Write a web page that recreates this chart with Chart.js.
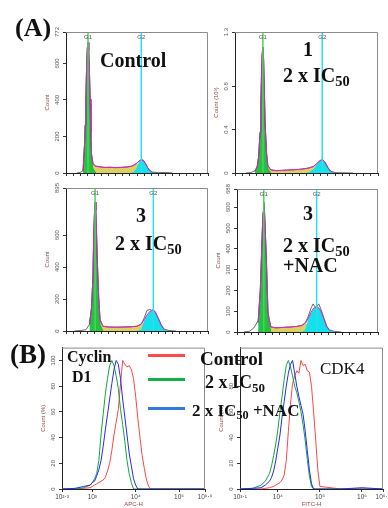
<!DOCTYPE html>
<html>
<head>
<meta charset="utf-8">
<title>Cell cycle and cyclin D1 / CDK4</title>
<script src="https://cdn.jsdelivr.net/npm/chart.js@4.4.1/dist/chart.umd.min.js"></script>
<style>
  html, body { margin: 0; padding: 0; background: #fff; }
  #wrap { position: relative; width: 388px; height: 508px; overflow: hidden; background: #fff; }
  #wrap canvas { position: absolute; }
  .lbl { position: absolute; font-family: "Liberation Serif", "Times New Roman", serif; font-weight: bold; line-height: 1; white-space: nowrap; color: #111; z-index: 2; }
  .lbl sub { font-size: 0.72em; vertical-align: -0.28em; line-height: 0; }
  .key { position: absolute; left: 148px; width: 37px; height: 3px; z-index: 2; }
</style>
</head>
<body>
<div id="wrap">
  <div class="lbl" style="left:15px;top:15px;font-size:26px">(A)</div>
  <div class="lbl" style="left:100px;top:50px;font-size:20px">Control</div>
  <div class="lbl" style="left:303px;top:39px;font-size:20px">1</div>
  <div class="lbl" style="left:283px;top:65px;font-size:20px">2 x IC<sub>50</sub></div>
  <div class="lbl" style="left:136px;top:205px;font-size:20px">3</div>
  <div class="lbl" style="left:115px;top:233px;font-size:20px">2 x IC<sub>50</sub></div>
  <div class="lbl" style="left:303px;top:203px;font-size:20px">3</div>
  <div class="lbl" style="left:283px;top:235px;font-size:20px">2 x IC<sub>50</sub></div>
  <div class="lbl" style="left:283px;top:255px;font-size:20px">+NAC</div>

  <div class="lbl" style="left:10px;top:341px;font-size:27px">(B)</div>
  <div class="lbl" style="left:67px;top:349px;font-size:16px">Cyclin</div>
  <div class="lbl" style="left:72px;top:369px;font-size:16px">D1</div>
  <div class="lbl" style="left:320px;top:360px;font-size:17px;font-weight:normal">CDK4</div>

  <div class="key" style="top:354px;background:rgb(255,75,75)"></div>
  <div class="key" style="top:378px;background:rgb(20,175,70)"></div>
  <div class="key" style="top:407px;background:rgb(50,120,225)"></div>
  <div class="lbl" style="left:200px;top:349px;font-size:19px">Control</div>
  <div class="lbl" style="left:205px;top:373px;font-size:18px">2 x IC<sub>50</sub></div>
  <div class="lbl" style="left:192px;top:402px;font-size:17px">2 x IC<sub>50</sub> +NAC</div>
</div>

<script>
// ---- (A) cell cycle histograms: channel positions and counts ----
const a1X   = [15, 20, 24, 26, 27, 28, 29, 30, 31, 32, 33, 34, 35, 36, 38, 42, 48, 55, 62, 70, 78, 86, 92, 96, 100, 103, 106, 109, 112, 115, 118, 122, 130, 140, 150];
const a1Raw = [0, 3, 12, 150, 265, 405, 585, 685, 715, 675, 565, 405, 225, 105, 52, 38, 34, 30, 32, 29, 31, 33, 37, 44, 55, 66, 73, 70, 52, 30, 14, 5, 2, 3, 0];
const a1Fit = [null, null, 10, 150, 260, 400, 580, 680, 715, 670, 560, 400, 220, 100, 50, 37, 33, 31, 31, 30, 31, 33, 37, 44, 54, 65, 72, 69, 51, 29, 13, 4];
const a1G1  = [null, null, 10, 150, 260, 400, 580, 680, 715, 670, 560, 380, 190, 80, 25, 0];
const a1S   = [null, null, null, null, null, null, null, null, null, 0, 30, 60, 215, 100, 50, 37, 33, 31, 31, 30, 31, 33, 37, 44, 52, 45, 30, 15, 5, 0];
const a1G2  = [null, null, null, null, null, null, null, null, null, null, null, null, null, null, null, null, null, null, null, null, null, null, 0, 8, 30, 63, 72, 69, 51, 29, 13, 4, 0];
const a1Ticks = [0, 200, 400, 600, 772];

const a2X   = [15, 22, 28, 31, 33, 35, 36, 37, 38, 39, 40, 41, 42, 44, 46, 50, 58, 66, 74, 82, 90, 98, 104, 110, 114, 118, 122, 126, 130, 134, 140, 150, 165];
const a2Raw = [0, 4, 20, 60, 150, 380, 620, 900, 1120, 1160, 1060, 790, 490, 200, 70, 30, 22, 25, 28, 30, 34, 40, 48, 62, 85, 110, 127, 100, 50, 15, 4, 2, 0];
const a2Fit = [null, null, 18, 55, 145, 370, 600, 880, 1100, 1160, 1050, 780, 480, 190, 65, 28, 22, 24, 27, 30, 33, 40, 47, 60, 82, 108, 125, 98, 48, 14];
const a2G1  = [null, null, 18, 55, 145, 370, 600, 880, 1100, 1160, 1050, 780, 480, 170, 40, 0];
const a2S   = [null, null, null, null, null, null, null, null, null, null, null, 0, 30, 185, 55, 28, 22, 24, 27, 30, 33, 40, 47, 58, 62, 45, 25, 10, 0];
const a2G2  = [null, null, null, null, null, null, null, null, null, null, null, null, null, null, null, null, null, null, null, null, null, 0, 10, 35, 75, 105, 125, 98, 48, 14, 0];
const a2Ticks = [0, 400, 800, 1300];

const a3X   = [12, 20, 28, 33, 36, 38, 39, 40, 41, 42, 43, 44, 46, 48, 52, 60, 70, 80, 90, 100, 106, 110, 114, 118, 121, 123, 126, 130, 134, 138, 145, 155];
const a3Raw = [0, 3, 8, 40, 150, 350, 600, 730, 806, 760, 620, 460, 220, 72, 30, 25, 24, 25, 26, 30, 45, 80, 128, 135, 128, 133, 118, 80, 40, 12, 3, 0];
const a3Fit = [null, null, null, 38, 145, 345, 595, 725, 806, 755, 615, 455, 215, 70, 29, 25, 24, 25, 26, 30, 42, 70, 100, 122, 130, 131, 115, 78, 38, 10];
const a3G1  = [null, null, null, 38, 145, 345, 595, 725, 806, 755, 615, 440, 190, 40, 0];
const a3S   = [null, null, null, null, null, null, null, null, null, null, 0, 60, 210, 68, 29, 25, 24, 25, 26, 30, 40, 50, 30, 18, 8, 0];
const a3G2  = [null, null, null, null, null, null, null, null, null, null, null, null, null, null, null, null, null, null, null, 0, 10, 66, 95, 120, 130, 131, 115, 78, 38, 10, 0];
const a3Ticks = [0, 200, 400, 600, 895];

const a4X   = [10, 18, 24, 30, 33, 35, 36, 37, 38, 39, 40, 42, 44, 48, 55, 65, 75, 85, 92, 97, 101, 105, 108, 111, 113, 116, 119, 123, 127, 131, 138, 148];
const a4Raw = [0, 4, 20, 55, 200, 400, 500, 580, 624, 585, 505, 320, 95, 25, 20, 22, 24, 27, 32, 45, 75, 115, 135, 118, 122, 135, 110, 70, 30, 10, 3, 0];
const a4Fit = [null, null, null, 45, 195, 395, 495, 575, 624, 580, 500, 315, 90, 24, 20, 22, 24, 27, 32, 42, 65, 95, 112, 119, 121, 116, 100, 65, 28, 8];
const a4G1  = [null, null, null, 45, 195, 395, 495, 575, 624, 580, 500, 300, 70, 0];
const a4S   = [null, null, null, null, null, null, null, null, null, null, 0, 40, 88, 24, 20, 22, 24, 27, 30, 38, 40, 30, 15, 5, 0];
const a4G2  = [null, null, null, null, null, null, null, null, null, null, null, null, null, null, null, null, null, null, 0, 12, 62, 92, 110, 119, 121, 116, 100, 65, 28, 8, 0];
const a4Ticks = [0, 100, 200, 300, 400, 500, 600, 688];

// gate positions (channel)
const gateG1 = [31, 39, 41, 38];
const gateG2 = [106, 122, 123, 113];

// ---- (B) overlays: log10 of intensity and % of max ----
const b1X       = [2.3, 2.6, 2.8, 2.95, 3.0, 3.05, 3.1, 3.15, 3.2, 3.25, 3.3, 3.35, 3.4, 3.45, 3.5, 3.55, 3.6, 3.65, 3.7, 3.75, 3.8, 3.85, 3.9, 3.95, 4.0, 4.05, 4.1, 4.15, 4.2, 4.25, 4.3, 4.35, 4.5, 5.0, 5.6];
const b1Control = [0, 0, 0.5, 1, 2, 3, 4, 5, 6, 7, 9, 14, 20, 30, 42, 52, 62, 82, 100, 97, 95, 96, 93, 86, 72, 55, 40, 26, 16, 7, 2, 0, 0, 0, 0];
const b1Ic50    = [0, 0, 1, 3, 5, 8, 12, 22, 42, 58, 74, 86, 96, 100, 96, 88, 78, 62, 50, 37, 22, 12, 5, 0, 0, 0, 0, 0, 0, 0, 0, 0, 0, 0, 0];
const b1Nac     = [0, 0.5, 2, 3, 5, 6, 10, 15, 22, 33, 46, 58, 70, 82, 93, 100, 97, 86, 70, 56, 42, 28, 18, 8, 3, 0, 0, 0, 0, 0, 0, 0, 0, 0, 0];
const b1Ticks   = [2.3, 3, 4, 5, 5.6];

const b2X       = [3.1, 3.4, 3.6, 3.7, 3.8, 3.85, 3.9, 3.95, 4.0, 4.05, 4.1, 4.15, 4.2, 4.25, 4.3, 4.35, 4.4, 4.45, 4.5, 4.55, 4.6, 4.65, 4.7, 4.75, 4.8, 4.85, 4.9, 4.95, 5.0, 5.5, 6.0, 6.5];
const b2Control = [0, 0, 0, 0.5, 1, 1.5, 2, 3, 4, 5, 7, 11, 22, 45, 66, 82, 88, 92, 90, 100, 96, 97, 92, 91, 80, 60, 38, 15, 2, 0, 0, 0];
const b2Ic50    = [0, 0.5, 3, 6, 12, 18, 26, 35, 46, 60, 72, 85, 96, 100, 95, 88, 80, 75, 68, 60, 50, 38, 23, 10, 2, 0, 0, 0, 0, 0, 0, 0];
const b2Nac     = [0, 0.5, 1, 3, 6, 9, 14, 22, 32, 42, 56, 68, 80, 90, 97, 100, 90, 80, 72, 65, 58, 45, 30, 15, 4, 0, 0, 0, 0, 0, 1, 0];
const b2Ticks   = [3.1, 4, 5, 6, 6.5];
const pctTicks  = [0, 20, 40, 60, 80, 100];

Chart.defaults.font.family = '"Liberation Sans", Arial, sans-serif';
Chart.defaults.animation = false;

function pts(xs, ys) {
  return xs.map((x, i) => ({ x: x, y: ys[i] })).filter(p => p.y !== null && p.y !== undefined);
}

function place(left, top, w, h) {
  const c = document.createElement('canvas');
  c.width = w; c.height = h;
  c.style.left = left + 'px'; c.style.top = top + 'px';
  c.style.width = w + 'px'; c.style.height = h + 'px';
  document.getElementById('wrap').appendChild(c);
  return c;
}

// grey frame on top / right of the plot
const frame = {
  id: 'frame',
  afterDraw(c) {
    const a = c.chartArea, ctx = c.ctx;
    ctx.save();
    ctx.strokeStyle = '#8c8c8c';
    ctx.lineWidth = 1;
    ctx.beginPath();
    ctx.moveTo(a.left, a.top + 0.5);
    ctx.lineTo(a.right - 0.5, a.top + 0.5);
    ctx.lineTo(a.right - 0.5, a.bottom);
    ctx.stroke();
    ctx.restore();
  }
};

const gateLabels = {
  id: 'gateLabels',
  afterDatasetsDraw(c, args, opts) {
    if (!opts.gates) return;
    const ctx = c.ctx;
    ctx.save();
    ctx.font = '6px "Liberation Sans", Arial';
    ctx.fillStyle = '#555';
    ctx.textAlign = 'center';
    opts.gates.forEach(g => ctx.fillText(g.name, c.scales.x.getPixelForValue(g.pos), c.chartArea.top + 7));
    ctx.restore();
  }
};

const SUP = { '0': '⁰', '1': '¹', '2': '²', '3': '³', '4': '⁴', '5': '⁵', '6': '⁶', '7': '⁷', '8': '⁸', '9': '⁹', '.': '·' };
function pow10(v) {
  return '10' + String(v).split('').map(ch => SUP[ch] || ch).join('');
}

function yAxis(ticks, title, fmt, width) {
  return {
    type: 'linear', min: 0, max: ticks[ticks.length - 1],
    afterBuildTicks: s => { s.ticks = ticks.map(v => ({ value: v })); },
    ticks: { minRotation: 90, maxRotation: 90, crossAlign: 'center', padding: 1, color: '#555',
             font: { size: 6 }, callback: fmt || (v => v) },
    grid: { drawOnChartArea: false, tickLength: 3, color: '#333' },
    border: { color: '#222' },
    title: { display: true, text: title, color: '#8a4c40', font: { size: 6 }, padding: 0 },
    afterFit: s => { s.width = width; }
  };
}

function cyclePanel(box, p) {
  const top = p.ticks[p.ticks.length - 1];
  const datasets = [
    { data: [{ x: p.g1, y: 0 }, { x: p.g1, y: top }], borderColor: 'rgb(70,215,90)', borderWidth: 1.5, order: 0 },
    { data: [{ x: p.g2, y: 0 }, { x: p.g2, y: top }], borderColor: 'rgb(40,225,240)', borderWidth: 1.5, order: 0 },
    { data: pts(p.x, p.fit), borderColor: 'rgb(225,30,200)', borderWidth: 1, order: 1 },
    { data: pts(p.x, p.raw), borderColor: '#444', borderWidth: 0.8, order: 2 },
    { data: pts(p.x, p.g2c), borderColor: 'rgba(0,0,0,0)', borderWidth: 0.5, backgroundColor: 'rgb(20,225,235)', fill: 'origin', order: 3 },
    { data: pts(p.x, p.g1c), borderColor: 'rgb(10,150,40)', borderWidth: 0.6, backgroundColor: 'rgb(35,195,65)', fill: 'origin', order: 4 },
    { data: pts(p.x, p.s), borderColor: 'rgba(0,0,0,0)', borderWidth: 0.5, backgroundColor: 'rgb(218,208,100)', fill: 'origin', order: 5 }
  ];
  new Chart(place(box[0], box[1], box[2], box[3]), {
    type: 'line',
    data: { datasets: datasets },
    options: {
      responsive: false, events: [],
      layout: { padding: { top: 6, right: 2, bottom: 2, left: 0 } },
      elements: { point: { radius: 0 }, line: { tension: 0 } },
      plugins: { legend: { display: false }, tooltip: { enabled: false },
                 gateLabels: { gates: [{ name: 'G1', pos: p.g1 }, { name: 'G2', pos: p.g2 }] } },
      scales: {
        x: { type: 'linear', min: 0, max: 200,
             ticks: { display: false, stepSize: 10 },
             grid: { drawOnChartArea: false, tickLength: 3, color: '#333' },
             border: { color: '#222' },
             afterFit: s => { s.height = 6; } },
        y: yAxis(p.ticks, p.yTitle, p.fmt, 22)
      }
    },
    plugins: [frame, gateLabels]
  });
}

function overlayPanel(box, xs, ctrl, ic, nac, xTicks, xTitle) {
  new Chart(place(box[0], box[1], box[2], box[3]), {
    type: 'line',
    data: { datasets: [
      { data: pts(xs, nac), borderColor: 'rgb(40,40,245)', borderWidth: 1 },
      { data: pts(xs, ic), borderColor: 'rgb(20,165,60)', borderWidth: 1 },
      { data: pts(xs, ctrl), borderColor: 'rgb(255,70,70)', borderWidth: 1 }
    ] },
    options: {
      responsive: false, events: [],
      layout: { padding: { top: 4, right: 10, bottom: 0, left: 0 } },
      elements: { point: { radius: 0 }, line: { tension: 0 } },
      plugins: { legend: { display: false }, tooltip: { enabled: false } },
      scales: {
        x: { type: 'linear', min: xTicks[0], max: xTicks[xTicks.length - 1],
             afterBuildTicks: s => { s.ticks = xTicks.map(v => ({ value: v })); },
             ticks: { maxRotation: 0, autoSkip: false, padding: 1, color: '#444', font: { size: 6.5 },
                      callback: v => pow10(v) },
             grid: { drawOnChartArea: false, tickLength: 3, color: '#333' },
             border: { color: '#222' },
             title: { display: true, text: xTitle, color: '#8a4c40', font: { size: 6 }, padding: 0 },
             afterFit: s => { s.height = 19; } },
        y: Object.assign(yAxis(pctTicks, 'Count (%)', null, 22), { max: 110 })
      }
    },
    plugins: [frame]
  });
}

cyclePanel([44, 26, 166, 155], { x: a1X, raw: a1Raw, fit: a1Fit, g1c: a1G1, s: a1S, g2c: a1G2, ticks: a1Ticks, g1: gateG1[0], g2: gateG2[0], yTitle: 'Count' });
cyclePanel([213, 26, 167, 155], { x: a2X, raw: a2Raw, fit: a2Fit, g1c: a2G1, s: a2S, g2c: a2G2, ticks: a2Ticks, g1: gateG1[1], g2: gateG2[1], yTitle: 'Count (10³)', fmt: v => String(v / 1000) });
cyclePanel([44, 182, 166, 157], { x: a3X, raw: a3Raw, fit: a3Fit, g1c: a3G1, s: a3S, g2c: a3G2, ticks: a3Ticks, g1: gateG1[2], g2: gateG2[2], yTitle: 'Count' });
cyclePanel([215, 183, 165, 157], { x: a4X, raw: a4Raw, fit: a4Fit, g1c: a4G1, s: a4S, g2c: a4G2, ticks: a4Ticks, g1: gateG1[3], g2: gateG2[3], yTitle: 'Count' });

overlayPanel([40, 343, 175, 165], b1X, b1Control, b1Ic50, b1Nac, b1Ticks, 'APC-H');
overlayPanel([218, 343, 175, 165], b2X, b2Control, b2Ic50, b2Nac, b2Ticks, 'FITC-H');
</script>
</body>
</html>
